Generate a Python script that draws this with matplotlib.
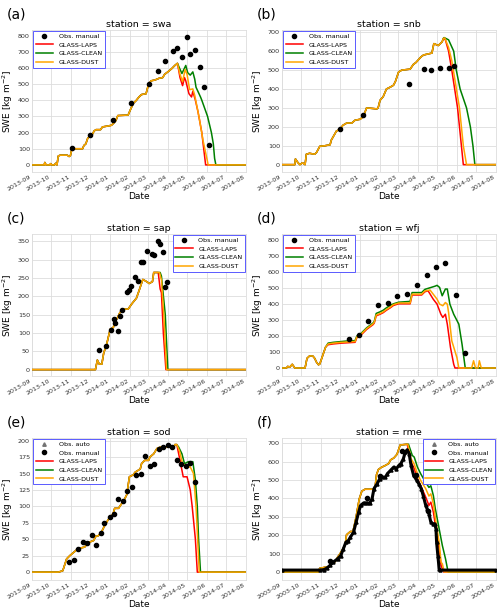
import matplotlib
matplotlib.use("Agg")
import matplotlib.pyplot as plt
import matplotlib.dates as mdates
from matplotlib.ticker import MultipleLocator
from matplotlib.lines import Line2D
import pandas as pd

# all days are counted from 1 September of the snow season

# ---- (a) swa ----
swa_common_day = [0, 19, 20, 22, 28, 29, 31, 35, 37, 39, 41, 44, 55, 58, 60, 62, 66, 79, 81, 84, 87, 90, 93,
                  97, 100, 107, 110, 118, 124, 128, 131, 134, 150, 154, 158, 163, 167, 171, 178, 182, 186,
                  192, 198, 204, 207, 212, 218, 223, 227]
swa_common_swe = [0, 0, 15, 0, 0, 8, 0, 0, 10, 0, 55, 60, 60, 52, 58, 95, 100, 100, 120, 130, 165, 175, 180,
                  210, 218, 218, 235, 240, 245, 260, 275, 305, 308, 345, 380, 400, 420, 435, 440, 500, 520,
                  525, 535, 540, 560, 575, 595, 615, 628]
swa_laps_day = [227, 231, 235, 238, 240, 245, 249, 251, 255, 259, 265, 268, 271, 334]
swa_laps_swe = [628, 540, 490, 540, 520, 440, 420, 455, 400, 330, 200, 100, 0, 0]
swa_clean_day = [227, 230, 234, 240, 243, 247, 251, 254, 256, 263, 265, 274, 280, 283, 285, 287, 334]
swa_clean_swe = [628, 600, 565, 615, 570, 555, 575, 530, 480, 420, 400, 300, 200, 130, 40, 0, 0]
swa_dust_day = [227, 231, 235, 239, 242, 246, 251, 254, 261, 267, 275, 334]
swa_dust_swe = [628, 560, 515, 590, 560, 465, 470, 430, 290, 150, 0, 0]
swa_obs_day = [62, 91, 127, 154, 182, 197, 208, 220, 227, 234, 242, 247, 255, 262, 269, 277]
swa_obs_swe = [104, 182, 276, 385, 502, 580, 643, 707, 725, 670, 788, 684, 713, 605, 479, 126]

# ---- (b) snb ----
snb_common_day = [0, 20, 21, 25, 28, 32, 36, 38, 43, 51, 54, 59, 67, 75, 77, 85, 90, 95, 101, 109, 114,
                  122, 127, 132, 148, 150, 153, 158, 163, 169, 174, 177, 182, 187, 200, 205, 209, 213, 217,
                  221, 234, 237, 244, 250, 252]
snb_common_swe = [0, 0, 30, 10, 0, 10, 0, 55, 60, 55, 65, 97, 100, 105, 130, 178, 185, 208, 220, 220, 235,
                  240, 255, 300, 295, 300, 340, 360, 400, 410, 420, 440, 490, 500, 505, 530, 540, 555, 570,
                  580, 590, 640, 630, 650, 668]
snb_laps_day = [252, 255, 260, 265, 274, 280, 283, 334]
snb_laps_swe = [668, 660, 600, 500, 300, 100, 0, 0]
snb_clean_day = [252, 253, 260, 268, 272, 278, 288, 294, 298, 301, 334]
snb_clean_swe = [668, 672, 660, 600, 500, 400, 300, 200, 100, 0, 0]
snb_dust_day = [252, 254, 260, 265, 277, 283, 288, 334]
snb_dust_swe = [668, 670, 620, 550, 300, 100, 0, 0]
snb_obs_day = [90, 126, 198, 221, 232, 247, 261, 268]
snb_obs_swe = [191, 265, 428, 504, 500, 513, 513, 521]

# ---- (c) sap ----
sap_common_day = [0, 99, 102, 105, 109, 112, 116, 122, 127, 129, 133, 137, 142, 150, 156, 163, 167, 173,
                  179, 183, 188, 190, 197]
sap_common_swe = [0, 0, 26, 15, 15, 46, 65, 110, 115, 130, 140, 155, 165, 165, 180, 195, 215, 246,
                  240, 235, 240, 265, 265]
sap_laps_day = [197, 200, 202, 205, 209, 334]
sap_laps_swe = [265, 220, 210, 100, 0, 0]
sap_clean_day = [197, 200, 202, 208, 212, 334]
sap_clean_swe = [265, 265, 255, 150, 0, 0]
sap_dust_day = [197, 199, 202, 206, 210, 334]
sap_dust_swe = [265, 265, 245, 140, 0, 0]
sap_obs_day = [104, 116, 124, 128, 130, 134, 137, 141, 148, 151, 155, 161, 165, 170, 173, 179, 187, 190,
               197, 200, 204, 207, 211]
sap_obs_swe = [54, 65, 109, 138, 126, 104, 145, 163, 211, 217, 229, 253, 241, 294, 294, 324, 315, 312,
               352, 344, 321, 225, 239]

# ---- (d) wfj ----
wfj_common_day = [0, 7, 9, 12, 16, 20, 36, 39, 43, 48, 51, 54, 57, 59, 62, 68]
wfj_common_swe = [0, 0, 10, 5, 23, 0, 0, 60, 75, 75, 60, 35, 20, 25, 60, 130]
wfj_laps_day = [68, 72, 80, 93, 114, 117, 122, 127, 132, 137, 142, 144, 147, 153, 158, 163, 169, 174, 182,
                200, 203, 218, 223, 228, 236, 242, 248, 251, 255, 258, 263, 268, 270, 334]
wfj_laps_swe = [130, 145, 150, 155, 160, 190, 200, 220, 240, 255, 270, 280, 325, 335, 345, 360, 375, 390, 400,
                400, 455, 455, 475, 481, 429, 398, 335, 315, 335, 273, 127, 23, 0, 0]
wfj_clean_day = [68, 72, 80, 93, 106, 114, 117, 122, 127, 132, 137, 142, 144, 147, 153, 158, 163, 169, 174,
                 182, 200, 203, 218, 223, 231, 239, 242, 246, 250, 255, 258, 262, 268, 276, 281, 286, 334]
wfj_clean_swe = [130, 155, 160, 165, 170, 170, 200, 210, 230, 250, 265, 280, 290, 340, 350, 360, 375, 390, 400,
                 410, 415, 470, 470, 490, 500, 510, 515, 502, 450, 492, 492, 398, 335, 273, 148, 0, 0]
wfj_dust_day = [68, 72, 80, 93, 114, 117, 122, 127, 132, 137, 142, 144, 147, 153, 158, 163, 169, 174, 182,
                200, 203, 218, 223, 231, 242, 246, 251, 255, 258, 260, 265, 273, 276, 296, 299, 302, 306,
                308, 311, 334]
wfj_dust_swe = [130, 150, 155, 160, 165, 195, 205, 225, 245, 260, 275, 285, 330, 340, 350, 365, 380, 395, 405,
                405, 460, 460, 480, 486, 429, 398, 388, 408, 398, 346, 169, 65, 0, 0, 45, 0, 0,
                45, 0, 0]
wfj_obs_day = [104, 120, 135, 150, 165, 180, 195, 211, 226, 240, 255, 271, 286]
wfj_obs_swe = [183, 204, 290, 394, 402, 446, 460, 519, 579, 627, 652, 454, 92]

# ---- (e) sod ----
sod_common_day = [0, 41, 48, 54, 59, 65, 71, 77, 82, 88, 96, 100, 103, 108, 113, 119, 124, 127, 129, 135,
                  137, 144, 148, 152, 158, 161, 166, 169, 171, 176, 182, 184, 190, 195, 200, 216, 221, 223,
                  226]
sod_common_swe = [0, 0, 2, 20, 25, 30, 35, 37, 38, 45, 48, 55, 55, 60, 70, 80, 85, 90, 97, 97,
                  100, 110, 118, 145, 148, 152, 155, 157, 165, 170, 170, 175, 180, 188, 190, 190, 188, 194,
                  194]
sod_laps_day = [226, 231, 236, 242, 247, 250, 255, 258, 334]
sod_laps_swe = [194, 170, 145, 145, 125, 100, 50, 0, 0]
sod_clean_day = [226, 229, 234, 238, 244, 251, 255, 258, 260, 263, 334]
sod_clean_swe = [194, 190, 180, 165, 168, 168, 140, 100, 50, 0, 0]
sod_dust_day = [226, 230, 235, 242, 247, 252, 256, 261, 334]
sod_dust_swe = [194, 185, 165, 160, 160, 150, 100, 0, 0]
sod_obs_day = [58, 65, 72, 79, 86, 93, 100, 107, 113, 121, 128, 135, 142, 149, 156, 163, 170, 177, 184,
               191, 198, 205, 212, 219, 226, 233, 240, 247, 254]
sod_obs_swe = [16, 19, 35, 46, 45, 57, 41, 59, 74, 84, 89, 111, 108, 123, 129, 147, 150, 176, 162,
               164, 187, 190, 193, 191, 170, 165, 162, 166, 137]

# ---- (f) rme ----
rme_common_day = [0, 57, 59, 67, 75, 79, 83, 87, 91, 96, 99, 101, 107, 111, 113, 116, 119, 121, 125, 130,
                  143, 146, 148, 151, 156, 162, 167, 170, 175, 180, 185, 196]
rme_common_swe = [0, 0, 20, 25, 30, 50, 55, 80, 100, 130, 150, 202, 220, 220, 250, 300, 360, 398, 440, 450,
                  450, 470, 530, 558, 570, 580, 590, 610, 620, 640, 691, 695]
rme_laps_day = [196, 201, 207, 212, 217, 225, 230, 233, 237, 241, 246, 249, 253, 335]
rme_laps_swe = [695, 607, 562, 507, 471, 407, 362, 380, 325, 235, 126, 35, 0, 0]
rme_clean_day = [196, 198, 204, 207, 212, 217, 225, 230, 233, 237, 240, 246, 251, 256, 260, 335]
rme_clean_swe = [695, 695, 634, 625, 571, 535, 487, 460, 469, 415, 344, 235, 144, 71, 0, 0]
rme_dust_day = [196, 197, 202, 207, 212, 217, 225, 230, 233, 237, 241, 246, 249, 251, 254, 335]
rme_dust_swe = [695, 695, 616, 587, 535, 498, 453, 413, 425, 371, 271, 162, 53, 44, 0, 0]
rme_auto_day = [0, 60, 65, 70, 75, 80, 87, 92, 96, 100, 104, 107, 112, 116, 120, 123, 128, 133, 137, 141,
                144, 149, 153, 157, 162, 165, 170, 175, 179, 183, 186, 190, 193, 196, 199, 202, 206, 211,
                214, 218, 221, 225, 227, 230, 233, 236, 239, 241, 242, 244, 246, 247, 335]
rme_auto_swe = [10, 10, 12, 20, 35, 53, 71, 89, 125, 162, 171, 189, 216, 271, 325, 362, 376, 376, 373, 398,
                453, 480, 507, 516, 516, 535, 553, 571, 562, 580, 589, 616, 653, 665, 644, 580, 525, 498,
                480, 453, 416, 362, 344, 316, 271, 262, 262, 235, 162, 89, 16, 10, 10]
rme_obs_day = [75, 133, 153, 188, 210, 228]
rme_obs_swe = [62, 402, 520, 658, 529, 333]

model_names = ["GLASS-LAPS", "GLASS-CLEAN", "GLASS-DUST"]
model_colors = ["red", "green", "orange"]


def to_dates(start, days):
    return pd.Timestamp(start) + pd.to_timedelta(days, unit="D")


def draw(ax, tag, name, start, end, common, tails, obs, ylim, ystep, loc, auto=None, show_auto=False):
    handles = []
    if show_auto:
        handles.append(Line2D([], [], ls="none", marker="^", ms=2.5, color="0.45", label="Obs. auto"))
    if auto is not None:
        ax.plot(to_dates(start, auto[0]), auto[1], color="k", lw=2.2, marker="^", ms=2.2, zorder=4)
    ax.plot(to_dates(start, obs[0]), obs[1], ls="none", marker="o", ms=3, color="k", zorder=5)
    handles.append(Line2D([], [], ls="none", marker="o", ms=3, color="k", label="Obs. manual"))
    for (tday, tswe), nm, col in zip(tails, model_names, model_colors):
        days = list(common[0]) + list(tday[1:])
        swe = list(common[1]) + list(tswe[1:])
        ln, = ax.plot(to_dates(start, days), swe, color=col, lw=1.1, label=nm, zorder=3)
        handles.append(ln)

    ax.set_xlim(pd.Timestamp(start), pd.Timestamp(end))
    ax.set_ylim(*ylim)
    ax.yaxis.set_major_locator(MultipleLocator(ystep))
    ax.xaxis.set_major_locator(mdates.MonthLocator())
    ax.xaxis.set_major_formatter(mdates.DateFormatter("%Y-%m"))
    for lab in ax.get_xticklabels():
        lab.set_rotation(30)
        lab.set_ha("right")
    ax.tick_params(labelsize=4.6, length=0, pad=1.5, colors="#333333")
    ax.grid(True, color="#dddddd", lw=0.6)
    for s in ax.spines.values():
        s.set_color("#dddddd")
        s.set_linewidth(0.6)
    ax.set_title("station = " + name, fontsize=6.8, pad=2)
    ax.set_xlabel("Date", fontsize=6.5, labelpad=0)
    ax.set_ylabel("SWE [kg m$^{-2}$]", fontsize=6.5, labelpad=2)
    ax.text(-0.12, 1.11, tag, transform=ax.transAxes, fontsize=10, va="center", ha="left")
    leg = ax.legend(handles=handles, loc=loc, fontsize=4.6, borderaxespad=0.15, fancybox=False,
                    handlelength=2.8, framealpha=1, edgecolor="#5a5aff")
    leg.get_frame().set_linewidth(0.7)


fig = plt.figure(figsize=(5, 6.15), dpi=100)
W = 0.428
H = 0.2309
lefts = [0.064, 0.564]
bottoms = [0.7203, 0.3886, 0.0569]
axs = [fig.add_axes([lefts[i % 2], bottoms[i // 2], W, H]) for i in range(6)]

s1, e1 = "2013-09-01", "2014-08-01"
draw(axs[0], "(a)", "swa", s1, e1, (swa_common_day, swa_common_swe),
     [(swa_laps_day, swa_laps_swe), (swa_clean_day, swa_clean_swe), (swa_dust_day, swa_dust_swe)],
     (swa_obs_day, swa_obs_swe), (-44, 834), 100, "upper left")
draw(axs[1], "(b)", "snb", s1, e1, (snb_common_day, snb_common_swe),
     [(snb_laps_day, snb_laps_swe), (snb_clean_day, snb_clean_swe), (snb_dust_day, snb_dust_swe)],
     (snb_obs_day, snb_obs_swe), (-39, 712), 100, "upper left")
draw(axs[2], "(c)", "sap", s1, e1, (sap_common_day, sap_common_swe),
     [(sap_laps_day, sap_laps_swe), (sap_clean_day, sap_clean_swe), (sap_dust_day, sap_dust_swe)],
     (sap_obs_day, sap_obs_swe), (-17.5, 370), 50, "upper right")
draw(axs[3], "(d)", "wfj", s1, e1, (wfj_common_day, wfj_common_swe),
     [(wfj_laps_day, wfj_laps_swe), (wfj_clean_day, wfj_clean_swe), (wfj_dust_day, wfj_dust_swe)],
     (wfj_obs_day, wfj_obs_swe), (-50, 835), 100, "upper left")
draw(axs[4], "(e)", "sod", s1, e1, (sod_common_day, sod_common_swe),
     [(sod_laps_day, sod_laps_swe), (sod_clean_day, sod_clean_swe), (sod_dust_day, sod_dust_swe)],
     (sod_obs_day, sod_obs_swe), (-12, 204), 25, "upper left", show_auto=True)
draw(axs[5], "(f)", "rme", "2003-09-01", "2004-08-01", (rme_common_day, rme_common_swe),
     [(rme_laps_day, rme_laps_swe), (rme_clean_day, rme_clean_swe), (rme_dust_day, rme_dust_swe)],
     (rme_obs_day, rme_obs_swe), (-44, 729), 100, "upper right",
     auto=(rme_auto_day, rme_auto_swe), show_auto=True)

fig.savefig("out.png", dpi=100)
